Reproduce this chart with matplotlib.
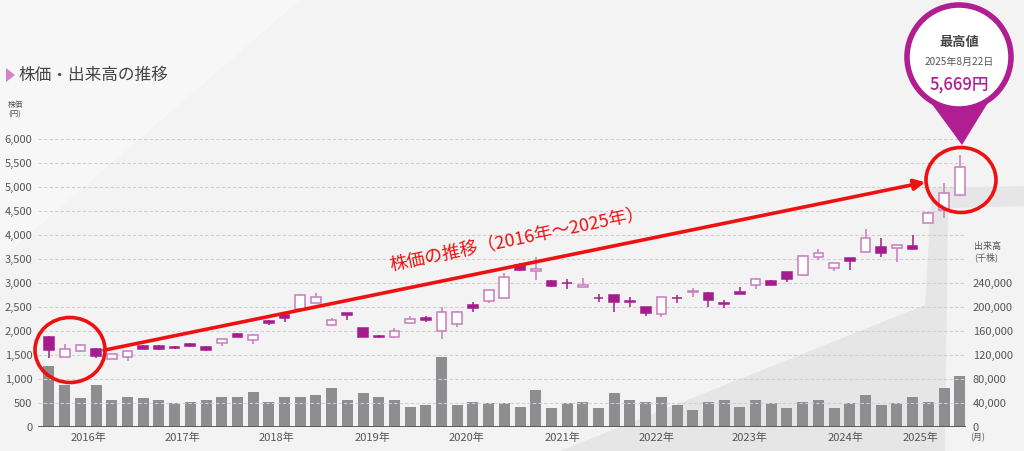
import matplotlib.pyplot as plt
from matplotlib.patches import Ellipse, Polygon
import numpy as np

plt.rcParams['font.family'] = ['Noto Sans CJK JP', 'DejaVu Sans']

# 2-month candles, Sep 2015 - Aug 2025 (price in yen)
opens = [1870, 1460, 1580, 1625, 1420, 1460, 1690, 1690, 1670, 1730,
         1670, 1750, 1940, 1810, 2210, 2330, 2450, 2590, 2120, 2370,
         2060, 1895, 1870, 2175, 2265, 1990, 2150, 2540, 2630, 2680,
         3375, 3240, 3050, 3000, 2925, 2690, 2750, 2620, 2490, 2355,
         2690, 2810, 2800, 2580, 2820, 2960, 3050, 3220, 3170, 3535,
         3320, 3515, 3655, 3745, 3720, 3770, 4260, 4520, 4830]
closes = [1600, 1625, 1710, 1480, 1520, 1580, 1630, 1630, 1650, 1680,
          1610, 1830, 1880, 1920, 2170, 2280, 2760, 2715, 2230, 2340,
          1870, 1880, 2000, 2240, 2235, 2400, 2400, 2480, 2850, 3130,
          3280, 3300, 2940, 2990, 2955, 2680, 2610, 2605, 2370, 2700,
          2680, 2830, 2650, 2570, 2775, 3090, 2960, 3080, 3570, 3615,
          3410, 3465, 3930, 3620, 3790, 3710, 4460, 4870, 5410]
highs = [1890, 1730, 1720, 1640, 1530, 1590, 1700, 1700, 1690, 1750,
         1680, 1840, 1960, 1930, 2220, 2340, 2770, 2800, 2280, 2375,
         2065, 1920, 2070, 2310, 2310, 2490, 2410, 2610, 2860, 3210,
         3420, 3540, 3060, 3080, 3100, 2780, 2760, 2715, 2500, 2710,
         2750, 2890, 2810, 2645, 2910, 3100, 3060, 3230, 3580, 3710,
         3415, 3520, 4120, 3930, 3800, 4000, 4470, 5090, 5669]
lows = [1440, 1450, 1570, 1430, 1410, 1380, 1620, 1600, 1630, 1660,
        1580, 1690, 1870, 1730, 2120, 2190, 2430, 2580, 2110, 2230,
        1865, 1850, 1855, 2170, 2195, 1830, 2090, 2400, 2580, 2670,
        3260, 3060, 2910, 2870, 2920, 2610, 2400, 2510, 2310, 2300,
        2580, 2715, 2510, 2475, 2770, 2870, 2950, 3030, 3150, 3480,
        3240, 3270, 3650, 3535, 3445, 3700, 4250, 4350, 4820]
# volume, thousand shares
volumes = [102000, 70000, 48000, 70000, 45000, 50500, 48000, 45000, 39500, 42000,
           45000, 50500, 50500, 59000, 42000, 50500, 50500, 53000, 64500, 45000,
           56000, 50500, 45000, 34000, 36500, 116000, 36500, 42000, 39500, 39500,
           34000, 61500, 31000, 39500, 42000, 31000, 56000, 45000, 42000, 50500,
           36500, 28500, 42000, 45000, 34000, 45000, 39500, 31000, 42000, 45000,
           31000, 39500, 53000, 36500, 39500, 50500, 42000, 64500, 85500]
years = ['2016年', '2017年', '2018年', '2019年', '2020年',
         '2021年', '2022年', '2023年', '2024年', '2025年']
year_pos = [2.5, 8.5, 14.5, 20.6, 26.6, 32.7, 38.7, 44.6, 50.7, 55.5]

UP_EDGE = '#c97cbd'
DOWN = '#a51c8e'
PIN = '#b01e92'
W, H = 1024, 451

def fx(px):
    return px / W

def fy(py):
    return 1 - py / H

fig = plt.figure(figsize=(10.24, 4.51), dpi=100, facecolor='#f3f3f3')

# background decoration
fig.patches.append(Polygon([(0, fy(0)), (fx(300), fy(0)), (0, fy(260))], closed=True,
                           transform=fig.transFigure, facecolor='#f7f7f7',
                           edgecolor='none', zorder=-10))
fig.patches.append(Polygon([(fx(560), fy(451)), (fx(925), fy(305)), (fx(932), fy(188)),
                            (fx(1024), fy(186)), (fx(1024), fy(206)), (fx(948), fy(208)),
                            (fx(945), fy(451))], closed=True, transform=fig.transFigure,
                           facecolor='#e6e6e6', edgecolor='none', zorder=-10))

ax = fig.add_axes([fx(38), fy(427), fx(966) - fx(38), fy(139) - fy(427)])
axv = ax.twinx()
ax.set_zorder(axv.get_zorder() + 1)
ax.patch.set_visible(False)
axv.patch.set_visible(False)

x = np.arange(len(opens))
o = np.array(opens); c = np.array(closes)
up = c >= o

# volume bars
axv.bar(x, volumes, width=0.7, color='#8e8e91', zorder=2)
axv.set_ylim(0, 480000)
axv.set_yticks(np.arange(0, 240001, 40000))
axv.set_yticklabels([f'{v:,}' for v in range(0, 240001, 40000)])

# candles
for i in range(len(x)):
    col = UP_EDGE if up[i] else DOWN
    ax.vlines(x[i], lows[i], highs[i], color=col, lw=1.1, zorder=3)
    ax.bar(x[i], abs(c[i] - o[i]), bottom=min(c[i], o[i]), width=0.62,
           facecolor='white' if up[i] else DOWN, edgecolor=col, lw=1.1, zorder=4)

ax.set_xlim(-0.7, 58.4)
ax.set_ylim(0, 6000)
ax.set_yticks(np.arange(0, 6001, 500))
ax.set_yticklabels([f'{v:,}' for v in range(0, 6001, 500)])
ax.set_xticks(year_pos)
ax.set_xticklabels(years)
for v in range(500, 6001, 500):
    ax.axhline(v, color='#cfcfcf', lw=0.8, ls=(0, (3, 2)), zorder=1)

for a in (ax, axv):
    for s in ('top', 'left', 'right', 'bottom'):
        a.spines[s].set_visible(False)
    a.tick_params(length=0, labelsize=8, colors='#555555')
ax.tick_params(axis='y', pad=4)
axv.tick_params(axis='y', pad=5)
ax.tick_params(axis='x', pad=4)
ax.axhline(0, color='#555555', lw=1.3, zorder=5)

# labels
fig.patches.append(Polygon([(fx(6), fy(68)), (fx(15), fy(75)), (fx(6), fy(82))], closed=True,
                           transform=fig.transFigure, facecolor='#d582c9', edgecolor='none'))
fig.text(fx(18), fy(75), '株価・出来高の推移', fontsize=12, color='#444444', va='center')
fig.text(fx(8), fy(101), '株価\n(円)', fontsize=5.5, color='#555555', va='top', linespacing=1.2)
fig.text(fx(974), fy(242), '出来高\n(千株)', fontsize=6.5, color='#555555', va='top', linespacing=1.2)
fig.text(fx(970), fy(438), '(月)', fontsize=6.5, color='#555555', va='center')

# red circles and arrow
for cxp, cyp in ((70, 350), (961, 180)):
    fig.patches.append(Ellipse((fx(cxp), fy(cyp)), 70 / W, 65 / H, transform=fig.transFigure,
                               facecolor='none', edgecolor='#ee1111', lw=2.6, zorder=10))
ax.annotate('', xy=(55.8, 5100), xytext=(3.5, 1600),
            arrowprops=dict(arrowstyle='-|>', color='#ee1111', lw=2.6, mutation_scale=16,
                            shrinkA=0, shrinkB=0), zorder=10, annotation_clip=False)
ax.text(29.8, 3900, '株価の推移（2016年〜2025年）', color='#ee1111', fontsize=13,
        rotation=11.7, rotation_mode='anchor', ha='center', va='center', zorder=10)

# high-price pin
fig.patches.append(Polygon([(fx(926), fy(96)), (fx(992), fy(96)), (fx(962), fy(145))],
                           closed=True, transform=fig.transFigure, facecolor=PIN,
                           edgecolor='none', zorder=11))
fig.patches.append(Ellipse((fx(959), fy(57)), 104 / W, 104 / H, transform=fig.transFigure,
                           facecolor='white', edgecolor=PIN, lw=4.0, zorder=12))
fig.text(fx(959), fy(42), '最高値', fontsize=9.5, fontweight='bold', color='#444444',
         ha='center', va='center', zorder=13)
fig.text(fx(959), fy(62), '2025年8月22日', fontsize=7.2, color='#555555',
         ha='center', va='center', zorder=13)
fig.text(fx(959), fy(84), '5,669円', fontsize=12, fontweight='medium', color=PIN,
         ha='center', va='center', zorder=13)

fig.savefig('out.png', dpi=100, facecolor=fig.get_facecolor())
